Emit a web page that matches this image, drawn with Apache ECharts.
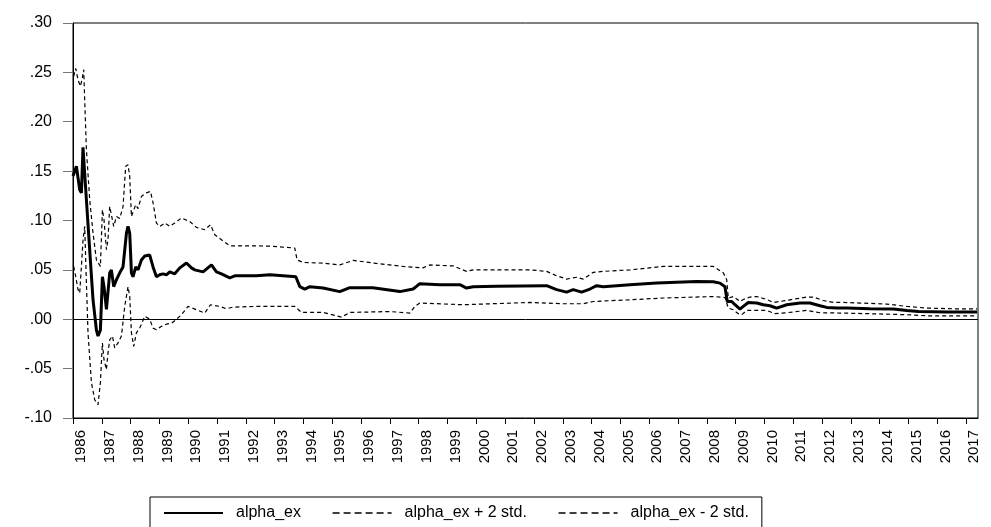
<!DOCTYPE html>
<html><head><meta charset="utf-8">
<script src="https://cdn.jsdelivr.net/npm/echarts@6/dist/echarts.min.js"></script>
<style>html,body{margin:0;padding:0;background:#fff}#c{width:991px;height:527px}</style>
</head><body><div id="c"></div>
<script>
// ---- data (decimal years, values) ----
const tMid = [1986.000,1986.118,1986.233,1986.292,1986.347,1986.406,1986.465,1986.580,1986.694,1986.813,1986.868,1986.951,1987.021,1987.076,1987.160,1987.215,1987.274,1987.333,1987.413,1987.507,1987.622,1987.736,1987.854,1987.910,1987.969,1988.028,1988.083,1988.177,1988.257,1988.375,1988.490,1988.663,1988.778,1988.896,1989.010,1989.125,1989.243,1989.358,1989.531,1989.705,1989.938,1990.111,1990.226,1990.514,1990.806,1990.979,1991.153,1991.441,1991.615,1992.368,1992.830,1993.639,1993.733,1993.872,1994.045,1994.219,1994.681,1995.260,1995.608,1996.406,1997.344,1997.806,1998.038,1998.733,1999.427,1999.660,1999.889,2000.701,2002.438,2002.785,2003.132,2003.361,2003.653,2003.941,2004.174,2004.403,2005.330,2006.257,2007.646,2008.222,2008.455,2008.628,2008.708,2008.861,2008.976,2009.149,2009.264,2009.438,2009.729,2009.958,2010.191,2010.424,2010.771,2011.233,2011.580,2011.927,2012.160,2012.507,2012.854,2013.663,2014.472,2014.938,2015.340,2016.326,2017.378];
const vMid = [0.145,0.155,0.131,0.128,0.174,0.174,0.121,0.070,0.020,-0.011,-0.017,-0.011,0.043,0.033,0.010,0.010,0.047,0.050,0.033,0.040,0.047,0.053,0.087,0.094,0.087,0.047,0.043,0.053,0.050,0.060,0.064,0.065,0.053,0.043,0.045,0.046,0.045,0.048,0.046,0.052,0.057,0.052,0.050,0.048,0.055,0.048,0.046,0.042,0.044,0.044,0.045,0.0434,0.043,0.033,0.0306,0.033,0.0316,0.028,0.032,0.032,0.028,0.0306,0.036,0.035,0.035,0.0316,0.033,0.0334,0.034,0.030,0.0275,0.030,0.0275,0.0306,0.034,0.033,0.035,0.0366,0.0383,0.038,0.0366,0.033,0.018,0.018,0.0147,0.0103,0.013,0.017,0.0164,0.0147,0.0137,0.0113,0.0147,0.0164,0.0164,0.0137,0.012,0.0113,0.0113,0.0106,0.0103,0.0089,0.0079,0.0073,0.0073];

const tUp = [1986.024,1986.094,1986.174,1986.257,1986.313,1986.372,1986.406,1986.465,1986.580,1986.694,1986.813,1986.951,1987.021,1987.076,1987.160,1987.215,1987.274,1987.333,1987.413,1987.507,1987.622,1987.736,1987.830,1987.910,1987.969,1988.028,1988.083,1988.177,1988.257,1988.375,1988.549,1988.688,1988.778,1988.896,1989.010,1989.184,1989.358,1989.531,1989.764,1990.052,1990.285,1990.573,1990.771,1990.920,1991.153,1991.441,1992.368,1992.830,1993.698,1993.778,1993.986,1994.681,1995.260,1995.722,1996.535,1997.458,1998.142,1998.385,1999.194,1999.660,1999.889,2001.857,2002.438,2002.785,2003.132,2003.479,2003.708,2004.056,2004.403,2005.330,2006.486,2008.222,2008.569,2008.688,2008.743,2008.917,2009.149,2009.264,2009.497,2009.729,2010.076,2010.306,2010.538,2010.885,2011.465,2011.694,2012.042,2012.389,2012.736,2013.316,2014.243,2014.938,2015.632,2016.556,2017.378];
const vUp = [0.246,0.254,0.2425,0.236,0.2425,0.2527,0.222,0.172,0.121,0.0876,0.060,0.0535,0.111,0.1008,0.0704,0.0805,0.1142,0.114,0.094,0.104,0.102,0.114,0.155,0.1565,0.1446,0.104,0.102,0.116,0.112,0.1244,0.128,0.1294,0.118,0.0974,0.094,0.0974,0.094,0.0974,0.1025,0.099,0.093,0.0906,0.0957,0.0856,0.0805,0.0744,0.0744,0.074,0.0721,0.060,0.0575,0.0568,0.055,0.0596,0.0565,0.0535,0.052,0.055,0.054,0.0485,0.050,0.050,0.0485,0.044,0.0407,0.0425,0.0407,0.0475,0.0485,0.050,0.0535,0.0535,0.047,0.040,0.0215,0.023,0.018,0.020,0.0225,0.023,0.020,0.017,0.018,0.0197,0.0225,0.0225,0.019,0.017,0.017,0.0164,0.0154,0.013,0.0113,0.0106,0.0106];

const tLo = [1986.024,1986.094,1986.174,1986.233,1986.292,1986.347,1986.406,1986.465,1986.521,1986.639,1986.753,1986.868,1986.951,1987.021,1987.076,1987.160,1987.215,1987.274,1987.368,1987.448,1987.563,1987.681,1987.795,1987.910,1987.969,1988.028,1988.108,1988.201,1988.316,1988.490,1988.663,1988.778,1988.896,1989.069,1989.243,1989.417,1989.590,1989.764,1989.993,1990.052,1990.285,1990.573,1990.771,1991.094,1991.326,1991.556,1992.368,1993.177,1993.698,1993.931,1994.681,1995.319,1995.608,1996.997,1997.691,1997.865,1998.038,1999.542,2001.857,2003.014,2003.698,2004.056,2005.330,2006.486,2008.222,2008.455,2008.628,2008.743,2008.917,2009.090,2009.208,2009.382,2010.076,2010.365,2010.771,2011.465,2011.927,2012.622,2013.663,2014.938,2015.632,2017.378];
const vLo = [0.0535,0.0433,0.030,0.0265,0.0535,0.080,0.094,0.037,-0.0137,-0.064,-0.0815,-0.0866,-0.064,-0.024,-0.041,-0.051,-0.034,-0.0208,-0.017,-0.029,-0.024,-0.017,0.013,0.033,0.023,-0.0137,-0.0275,-0.0137,-0.009,0.003,0.000,-0.009,-0.0106,-0.0072,-0.005,-0.004,0.000,0.0046,0.013,0.0147,0.0096,0.0063,0.0147,0.013,0.0106,0.0123,0.013,0.013,0.013,0.0069,0.0069,0.0022,0.0069,0.0078,0.0063,0.013,0.0164,0.0147,0.017,0.0157,0.0157,0.018,0.0197,0.0215,0.023,0.0225,0.022,0.0113,0.0096,0.0056,0.0046,0.009,0.009,0.0056,0.0066,0.009,0.0066,0.0063,0.0056,0.0046,0.0035,0.0035];

const seriesNames = ['alpha_ex', 'alpha_ex + 2 std.', 'alpha_ex - 2 std.'];
const yTicks = { min: -0.10, max: 0.30, step: 0.05 };
const xTicks = { first: 1986, step: 1, end: 2017.41 };

// ---- chart ----
const font = '"Liberation Sans", Arial, sans-serif';
function pairs(t, v) { return t.map((x, i) => [x, v[i]]); }
function yFmt(v) {
  const r = Math.round(v * 100);
  if (r === 0) return '.00';
  return (r < 0 ? '-' : '') + '.' + String(Math.abs(r)).padStart(2, '0');
}
const chart = echarts.init(document.getElementById('c'), null, { renderer: 'canvas' });
chart.setOption({
  animation: false,
  backgroundColor: '#fff',
  grid: { left: 73, right: 13, top: 23, bottom: 109, show: true, borderColor: '#000', borderWidth: 1, containLabel: false, outerBoundsMode: 'none' },
  xAxis: {
    type: 'value', min: xTicks.first, max: xTicks.end, interval: xTicks.step,
    axisLine: { show: true, onZero: false, lineStyle: { color: '#000', width: 1 } },
    axisTick: { show: true, length: 6, lineStyle: { color: '#000' } },
    splitLine: { show: false },
    axisLabel: { rotate: 90, margin: 12, color: '#000', fontFamily: font, fontSize: 15,
      verticalAlign: 'top', lineHeight: 16,
      formatter: v => String(Math.round(v)) }
  },
  yAxis: {
    type: 'value', min: yTicks.min, max: yTicks.max, interval: yTicks.step,
    axisLine: { show: true, lineStyle: { color: '#000', width: 1 } },
    axisTick: { show: true, length: 10, lineStyle: { color: '#777' } },
    splitLine: { show: false },
    axisLabel: { margin: 21, color: '#000', fontFamily: font, fontSize: 16, formatter: yFmt }
  },
  legend: {
    left: 150, top: 497, orient: 'horizontal',
    borderColor: '#000', borderWidth: 1, padding: [8, 13, 22, 13],
    itemWidth: 59, itemHeight: 14, itemGap: 31,
    itemStyle: { opacity: 0 },
    textStyle: { fontFamily: font, fontSize: 16, color: '#000', padding: [0, 0, 0, 8] },
    data: [
      { name: seriesNames[0] },
      { name: seriesNames[1], lineStyle: { type: [7, 4], width: 1.3 } },
      { name: seriesNames[2], lineStyle: { type: [7, 4], width: 1.3 } }
    ]
  },
  series: [
    { name: seriesNames[0], type: 'line', data: pairs(tMid, vMid), symbol: 'none', z: 5,
      lineStyle: { color: '#000', width: 3 }, itemStyle: { color: '#000' },
      markLine: { silent: true, symbol: ['none', 'none'], label: { show: false },
        lineStyle: { color: '#000', width: 1, type: 'solid' }, data: [{ yAxis: 0 }] } },
    { name: seriesNames[1], type: 'line', data: pairs(tUp, vUp), symbol: 'none', z: 4,
      lineStyle: { color: '#000', width: 1.2, type: [4, 3] }, itemStyle: { color: '#000' } },
    { name: seriesNames[2], type: 'line', data: pairs(tLo, vLo), symbol: 'none', z: 4,
      lineStyle: { color: '#000', width: 1.2, type: [4, 3] }, itemStyle: { color: '#000' } }
  ]
});
</script>
</body></html>
